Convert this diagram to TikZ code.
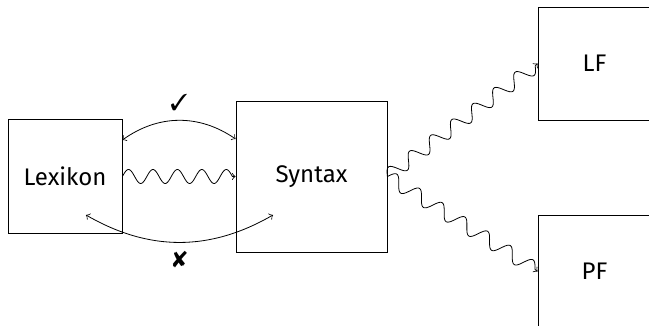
\documentclass[tikz,border=0pt]{standalone}
\usepackage{fontspec}
\setmainfont{Fira Sans}
\usepackage{pifont}
\usetikzlibrary{calc}
\begin{document}
\begin{tikzpicture}[x=1pt,y=1pt,
  box/.style={draw,rectangle,inner sep=0pt,font=\fontsize{12}{14}\selectfont},
  wave/.style={->},
  sym/.style={inner sep=0pt,font=\fontsize{11.5}{13}\selectfont}]
\useasboundingbox (0,0) rectangle (324.5,163);
\clip (0,0) rectangle (324.5,163);
\node[box,minimum width=57pt,minimum height=57pt] (lex) at (32.5,74.75) {Lexikon};
\node[box,minimum width=75.5pt,minimum height=75.5pt] (syn) at (155.75,74.75) {Syntax};
\node[box,minimum width=56.5pt,minimum height=56.5pt] (lf) at (297.25,131.25) {LF};
\node[box,minimum width=56.5pt,minimum height=56.5pt] (pf) at (297.25,27.25) {PF};
\draw[<->] ($(lex.east)+(0,18.25)$) to[bend left=35] ($(syn.west)+(0,18.75)$);
\draw[<->] ($(lex.center)+(10.5,-19.25)$) to[bend right=30] ($(syn.center)+(-19.25,-19.25)$);
\draw[wave,shift={(lex.east)}] plot[domain=0:55,samples=120,smooth] (\x,{3.5*sin(29.455*\x)}) -- (syn.west);
\draw[wave,shift={(syn.east)},rotate=36.81] plot[domain=0:92.3,samples=200,smooth] (\x,{3.5*sin(27.302*\x)}) -- (lf.west);
\draw[wave,shift={(syn.east)},rotate=-32.18] plot[domain=0:87.2,samples=200,smooth] (\x,{3.5*sin(26.836*\x)}) -- (pf.west);
\node[sym] (chk) at (89.5,111.75) {\ding{51}};
\node[sym] (crs) at (90,33) {\ding{56}};
\end{tikzpicture}
\end{document}
